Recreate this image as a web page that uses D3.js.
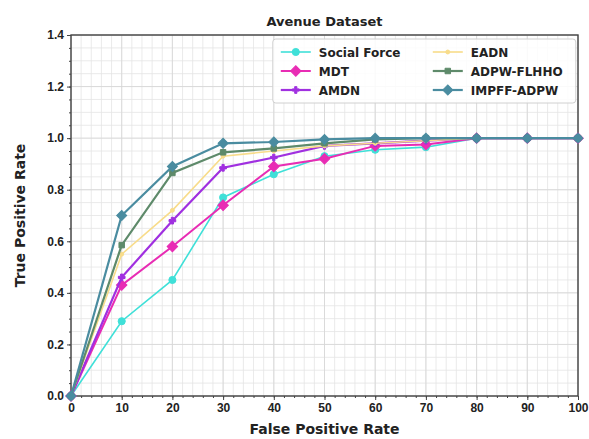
<!DOCTYPE html>
<html>
<head>
<meta charset="utf-8">
<script src="https://cdn.jsdelivr.net/npm/d3@7/dist/d3.min.js"></script>
<style>
	body { margin: 0; background: #fff; }
	svg { font-family: "DejaVu Sans", sans-serif; font-weight: bold; }
	.grid line { stroke: #e4e4e4; stroke-width: 0.8px; }
	.grid-major line { stroke: #d6d6d6; stroke-width: 0.8px; }
	.axis path, .axis line { stroke: #444; }
	.axis text { font-size: 12px; fill: #222; font-weight: bold; }
</style>
</head>
<body>
<svg id="chart" width="589" height="439"></svg>
<script>
var fpr = [0, 10, 20, 30, 40, 50, 60, 70, 80, 90, 100];
var xTicks = [0, 10, 20, 30, 40, 50, 60, 70, 80, 90, 100];
var yTicks = [0.0, 0.2, 0.4, 0.6, 0.8, 1.0, 1.2, 1.4];

var socialForce = [0, 0.29, 0.45, 0.77, 0.86, 0.93, 0.955, 0.965, 1.0, 1.0, 1.0];
var mdt = [0, 0.43, 0.58, 0.74, 0.89, 0.92, 0.97, 0.975, 1.0, 1.0, 1.0];
var amdn = [0, 0.46, 0.68, 0.885, 0.925, 0.97, 0.98, 0.99, 1.0, 1.0, 1.0];
var eadn = [0, 0.55, 0.72, 0.93, 0.95, 0.97, 0.98, 0.99, 1.0, 1.0, 1.0];
var adpwFlhho = [0, 0.585, 0.865, 0.945, 0.96, 0.98, 0.995, 1.0, 1.0, 1.0, 1.0];
var impffAdpw = [0, 0.70, 0.89, 0.98, 0.985, 0.995, 1.0, 1.0, 1.0, 1.0, 1.0];

var seriesNames = ["Social Force", "MDT", "AMDN", "EADN", "ADPW-FLHHO", "IMPFF-ADPW"];

var series = [
	{ name: seriesNames[0], values: socialForce, color: "#3fe0d8", marker: "circle", size: 40, width: 1.6 },
	{ name: seriesNames[1], values: mdt, color: "#e82cb4", marker: "diamond", size: 55, width: 2 },
	{ name: seriesNames[2], values: amdn, color: "#a030e0", marker: "plus", size: 25, width: 2.2 },
	{ name: seriesNames[3], values: eadn, color: "#f8dc8a", marker: "circle", size: 12, width: 1.6 },
	{ name: seriesNames[4], values: adpwFlhho, color: "#5e8a6a", marker: "square", size: 30, width: 2.2 },
	{ name: seriesNames[5], values: impffAdpw, color: "#4a8ca0", marker: "diamond", size: 50, width: 2.2 }
];

var svg = d3.select("#chart");
var margin = { top: 35, right: 11, bottom: 43, left: 71 };
var width = 589 - margin.left - margin.right,
	height = 439 - margin.top - margin.bottom;

var x = d3.scaleLinear().domain([0, 100]).range([0, width]);
var y = d3.scaleLinear().domain([0, 1.4]).range([height, 0]);

var g = svg.append("g").attr("transform", "translate(" + margin.left + "," + margin.top + ")");

// minor grid
g.append("g").attr("class", "grid")
	.selectAll("line").data(d3.range(0, 101, 2)).enter().append("line")
	.attr("x1", function(d) { return x(d); }).attr("x2", function(d) { return x(d); })
	.attr("y1", 0).attr("y2", height);
g.append("g").attr("class", "grid")
	.selectAll("line").data(d3.range(0, 29).map(function(i) { return i * 0.05; })).enter().append("line")
	.attr("y1", function(d) { return y(d); }).attr("y2", function(d) { return y(d); })
	.attr("x1", 0).attr("x2", width);
// major grid
g.append("g").attr("class", "grid-major")
	.selectAll("line").data(xTicks).enter().append("line")
	.attr("x1", function(d) { return x(d); }).attr("x2", function(d) { return x(d); })
	.attr("y1", 0).attr("y2", height);
g.append("g").attr("class", "grid-major")
	.selectAll("line").data(yTicks).enter().append("line")
	.attr("y1", function(d) { return y(d); }).attr("y2", function(d) { return y(d); })
	.attr("x1", 0).attr("x2", width);

// axes
g.append("g").attr("class", "axis")
	.attr("transform", "translate(0," + height + ")")
	.call(d3.axisBottom(x).tickValues(xTicks).tickSize(4).tickPadding(3).tickFormat(d3.format("d")));
g.append("g").attr("class", "axis")
	.attr("transform", "translate(0," + height + ")")
	.call(d3.axisBottom(x).tickValues(d3.range(0, 101, 2)).tickSize(2).tickFormat(""));
g.append("g").attr("class", "axis")
	.call(d3.axisLeft(y).tickValues(yTicks).tickSize(4).tickPadding(3).tickFormat(d3.format(".1f")));
g.append("g").attr("class", "axis")
	.call(d3.axisLeft(y).tickValues(d3.range(0, 29).map(function(i) { return i * 0.05; })).tickSize(2).tickFormat(""));
g.selectAll(".axis path.domain").remove();

// frame
g.append("rect")
	.attr("width", width).attr("height", height)
	.style("fill", "none").style("stroke", "#444").style("stroke-width", 1.4);

var line = d3.line()
	.x(function(d) { return x(d[0]); })
	.y(function(d) { return y(d[1]); });

// matplotlib style 'D' marker: a square turned 45 degrees
function symbolFor(s) {
	if (s.marker == "diamond") {
		return d3.symbol().type(d3.symbolSquare).size(s.size)();
	}
	var type = { circle: d3.symbolCircle, square: d3.symbolSquare, plus: d3.symbolCross }[s.marker];
	return d3.symbol().type(type).size(s.size)();
}
function rotFor(s) {
	return s.marker == "diamond" ? " rotate(45)" : "";
}

series.forEach(function(s) {
	var pts = fpr.map(function(v, i) { return [v, s.values[i]]; });
	g.append("path")
		.attr("d", line(pts))
		.style("fill", "none")
		.style("stroke", s.color)
		.style("stroke-width", s.width);
	g.selectAll(null).data(pts).enter().append("path")
		.attr("d", symbolFor(s))
		.attr("transform", function(d) { return "translate(" + x(d[0]) + "," + y(d[1]) + ")" + rotFor(s); })
		.style("fill", s.color)
		.style("stroke", s.color)
		.style("stroke-width", 1);
});

// legend
var legend = g.append("g").attr("transform", "translate(" + (x(39.8)) + ",4)");
legend.append("rect")
	.attr("width", 303).attr("height", 64).attr("rx", 3)
	.style("fill", "#fff").style("fill-opacity", 0.85)
	.style("stroke", "#d0d0d0");
series.forEach(function(s, i) {
	var col = Math.floor(i / 3), row = i % 3;
	var lg = legend.append("g").attr("transform", "translate(" + (8 + col * 152) + "," + (13 + row * 19) + ")");
	lg.append("line").attr("x1", 0).attr("x2", 30).attr("y1", 0).attr("y2", 0)
		.style("stroke", s.color).style("stroke-width", s.width);
	lg.append("path").attr("d", symbolFor(s)).attr("transform", "translate(15,0)" + rotFor(s))
		.style("fill", s.color).style("stroke", s.color);
	lg.append("text").attr("x", 38).attr("y", 4.5)
		.style("font-size", "12px").style("fill", "#222")
		.text(s.name);
});

// title and labels
svg.append("text")
	.attr("x", margin.left + width / 2).attr("y", 26)
	.attr("text-anchor", "middle")
	.style("font-size", "13px").style("fill", "#222")
	.text("Avenue Dataset");
svg.append("text")
	.attr("x", margin.left + width / 2).attr("y", 434)
	.attr("text-anchor", "middle")
	.style("font-size", "14px").style("fill", "#222")
	.text("False Positive Rate");
svg.append("text")
	.attr("transform", "translate(25," + (margin.top + height / 2) + ") rotate(-90)")
	.attr("text-anchor", "middle")
	.style("font-size", "14px").style("fill", "#222")
	.text("True Positive Rate");
</script>
</body>
</html>
